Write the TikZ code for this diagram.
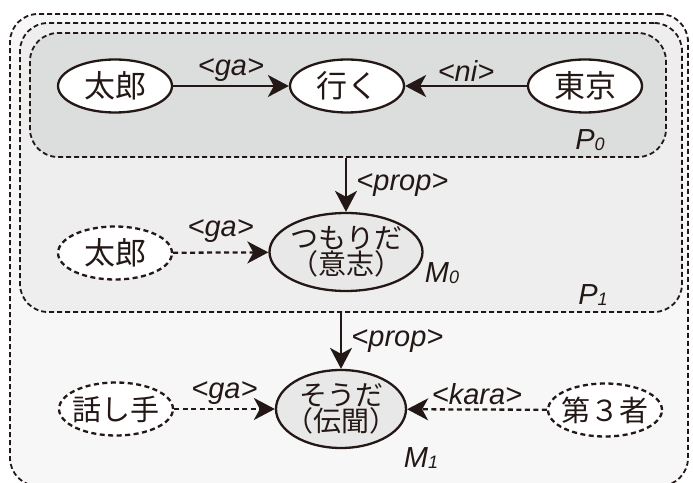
\documentclass[tikz,border=0pt]{standalone}
\usepackage{fontspec}
\setmainfont{Noto Sans CJK JP}
\newfontfamily\labfont{Liberation Sans}
\usetikzlibrary{arrows.meta,shapes.geometric}

\definecolor{ink}{HTML}{231815}
\definecolor{outerfill}{HTML}{F7F7F7}
\definecolor{ponefill}{HTML}{EEEEEE}
\definecolor{pzerofill}{HTML}{DCDDDD}
\definecolor{modfill}{HTML}{E8E8E8}

\newcommand\idx[1]{\raisebox{-1pt}{\fontsize{18}{18}\selectfont #1}}

\tikzset{
    frame/.style={draw=ink, dash pattern=on 5pt off 3pt, line width=1.8pt, rounded corners=28pt, inner sep=0pt},
    word/.style={ellipse, draw=ink, text=ink, line width=2.3pt, fill=white, inner ysep=0pt, inner xsep=-12pt,
        minimum width=114pt, minimum height=53pt, font=\fontsize{31}{31}\selectfont},
    hidden/.style={word, dash pattern=on 5pt off 3.5pt, font=\fontsize{29}{29}\selectfont},
    modal/.style={ellipse, draw=ink, text=ink, line width=2.3pt, fill=modfill, inner ysep=0pt, inner xsep=-12pt,
        align=center, font=\fontsize{28}{26}\selectfont},
    link/.style={-{Stealth[length=21pt,width=22pt,inset=6pt]}, draw=ink, line width=2.3pt},
    lab/.style={text=ink, font=\labfont\itshape\fontsize{29}{29}\selectfont},
}

\begin{document}
\begin{tikzpicture}[x=1pt,y=1pt]
    \useasboundingbox (0,0) rectangle (693,482);

    % Frames M1 / P1 / P0
    \node (m1) [frame, fill=outerfill, minimum width=678pt, minimum height=472pt] at (349,232) {};
    \node (p1) [frame, fill=ponefill, minimum width=662pt, minimum height=289pt] at (351,314.5) {};
    \node (p0) [frame, fill=pzerofill, minimum width=636pt, minimum height=124pt] at (348,387) {};

    % Proposition P0
    \node (taro) [word] at (115,396) {太郎};
    \node (iku) [word] at (347,396) {行く};
    \node (tokyo) [word] at (585,396) {東京};
    \draw[link] (taro) -- node[lab, above=0pt] {<ga>} (iku);
    \draw[link] (tokyo) -- node[lab, above=0pt] {<ni>} (iku);
    \node (p0lab) [lab] at (590,342) {P\idx{0}};

    % Modality M0 (P1)
    \node (taroh) [hidden, font=\fontsize{31}{31}\selectfont] at (115,229) {太郎};
    \node (tsumori) [modal, minimum width=153pt, minimum height=78pt] at (346,230) {つもりだ\\（意志）};
    \draw[link] (p0.south -| tsumori) -- node[lab, right=6pt] {<prop>} (tsumori);
    \draw[link, dash pattern=on 5pt off 3.5pt] (taroh) -- node[lab, above=6pt] {<ga>} (tsumori);
    \node (m0lab) [lab] at (442,209) {M\idx{0}};
    \node (p1lab) [lab] at (593,187) {P\idx{1}};

    % Modality M1
    \node (speaker) [hidden] at (116,73) {話し手};
    \node (souda) [modal, minimum width=130pt, minimum height=78pt] at (341,73) {そうだ\\（伝聞）};
    \node (third) [hidden] at (605,72) {第３者};
    \draw[link] (p1.south -| souda) -- node[lab, right=6pt] {<prop>} (souda);
    \draw[link, dash pattern=on 5pt off 3.5pt] (speaker) -- node[lab, above=0pt] {<ga>} (souda);
    \draw[link, dash pattern=on 5pt off 3.5pt] (third) -- node[lab, above=0pt] {<kara>} (souda);
    \node (m1lab) [lab] at (421,24) {M\idx{1}};
\end{tikzpicture}
\end{document}
